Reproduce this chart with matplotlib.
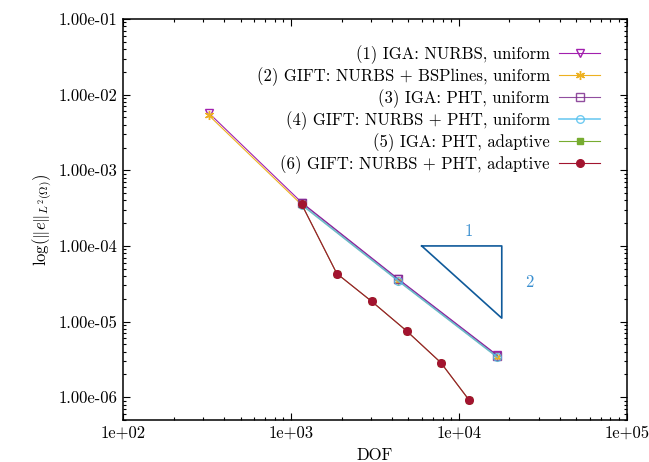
import matplotlib
matplotlib.use("Agg")
import matplotlib.pyplot as plt
from matplotlib.ticker import LogLocator, FuncFormatter, NullFormatter

plt.rcParams["font.family"] = ["cmr10", "DejaVu Serif"]
plt.rcParams["mathtext.fontset"] = "cm"
plt.rcParams["axes.unicode_minus"] = False

# degrees of freedom
dof_uniform = [324, 1156, 4356, 16900]
dof_uniform_pht = [1156, 4356, 16900]
dof_adaptive = [1156, 1871, 3020, 4886, 7797, 11530]

# L2 errors
err_iga_nurbs_uniform = [5.7e-3, 3.75e-4, 3.65e-5, 3.6e-6]
err_gift_bspl_uniform = [5.3e-3, 3.5e-4, 3.45e-5, 3.4e-6]
err_iga_pht_uniform = [3.7e-4, 3.6e-5, 3.55e-6]
err_gift_pht_uniform = [3.5e-4, 3.45e-5, 3.4e-6]
err_iga_pht_adaptive = [3.55e-4, 4.32e-5, 1.85e-5, 7.5e-6, 2.87e-6, 9.1e-7]
err_gift_pht_adaptive = [3.55e-4, 4.32e-5, 1.85e-5, 7.5e-6, 2.87e-6, 9.1e-7]

labels = [
    "(1) IGA: NURBS, uniform",
    "(2) GIFT: NURBS + BSPlines, uniform",
    "(3) IGA: PHT, uniform",
    "(4) GIFT: NURBS + PHT, uniform",
    "(5) IGA: PHT, adaptive",
    "(6) GIFT: NURBS + PHT, adaptive",
]

# slope triangle
tri_x = [6000, 18000]
tri_y = 1e-4
tri_rate = 2

fig = plt.figure(figsize=(6.49, 4.62), dpi=100)
ax = fig.add_axes([0.190, 0.0909, 0.7757, 0.868])

lw = 0.8
ms = 5.5
ax.plot(dof_uniform, err_iga_nurbs_uniform, color="#a21fae", lw=lw, marker="v",
        ms=ms + 0.5, mfc="none", mec="#a21fae", mew=1.0, label=labels[0])
ax.plot(dof_uniform, err_gift_bspl_uniform, color="#edb120", lw=lw, marker=(6, 2, 0),
        ms=ms + 1, mec="#edb120", mew=1.0, label=labels[1])
ax.plot(dof_uniform_pht, err_iga_pht_uniform, color="#7e2f8e", lw=lw, marker="s",
        ms=ms, mfc="none", mec="#7e2f8e", mew=1.0, label=labels[2], alpha=0.85)
ax.plot(dof_uniform_pht, err_gift_pht_uniform, color="#4dbeee", lw=lw + 0.4, marker="o",
        ms=ms, mfc="none", mec="#4dbeee", mew=1.0, label=labels[3], alpha=0.8)
ax.plot(dof_adaptive, err_iga_pht_adaptive, color="#77ac30", lw=lw, marker="s",
        ms=ms - 0.5, mfc="#77ac30", mec="#77ac30", label=labels[4])
ax.plot(dof_adaptive, err_gift_pht_adaptive, color="#a2142f", lw=lw, marker="o",
        ms=ms, mfc="#a2142f", mec="#a2142f", label=labels[5])

# convergence rate triangle
x0, x1 = tri_x
y_low = tri_y * (x0 / x1) ** tri_rate
ax.plot([x0, x1, x1, x0], [tri_y, tri_y, y_low, tri_y], color="#0f5a9a", lw=1.2)
ax.text((x0 * x1) ** 0.5 * 1.1, tri_y * 1.25, "1", color="#3a8fd0",
        fontsize=12, ha="center", va="bottom")
ax.text(x1 * 1.45, (tri_y * y_low) ** 0.5, "2", color="#3a8fd0",
        fontsize=12, ha="center", va="center")

ax.set_xscale("log")
ax.set_yscale("log")
ax.set_xlim(1e2, 1e5)
ax.set_ylim(5e-7, 1e-1)

ax.xaxis.set_major_locator(LogLocator(base=10, numticks=10))
ax.xaxis.set_minor_locator(LogLocator(base=10, subs=range(2, 10), numticks=20))
ax.yaxis.set_major_locator(LogLocator(base=10, numticks=10))
ax.yaxis.set_minor_locator(LogLocator(base=10, subs=range(2, 10), numticks=20))
ax.xaxis.set_minor_formatter(NullFormatter())
ax.yaxis.set_minor_formatter(NullFormatter())
ax.xaxis.set_major_formatter(FuncFormatter(lambda v, p: "%.0e" % v))
ax.yaxis.set_major_formatter(FuncFormatter(lambda v, p: "%.2e" % v))

ax.tick_params(which="both", direction="in", top=True, right=True, labelsize=12,
               width=0.8, color="black")
ax.tick_params(which="major", length=5, pad=4)
ax.tick_params(which="minor", length=2.5)
for s in ax.spines.values():
    s.set_linewidth(1.1)

ax.set_xlabel("DOF", fontsize=12)
ax.xaxis.set_label_coords(0.5, -0.07)
ax.set_ylabel(r"$\log(\|e\|_{L^2(\Omega)})$", fontsize=12)
ax.yaxis.set_label_coords(-0.137, 0.5)

ax.legend(loc="upper right", bbox_to_anchor=(0.96, 0.952), frameon=False,
          markerfirst=False, fontsize=12, handlelength=2.45, handletextpad=0.55,
          labelspacing=0.2, borderaxespad=0.0)

fig.savefig("out.png", dpi=100)
